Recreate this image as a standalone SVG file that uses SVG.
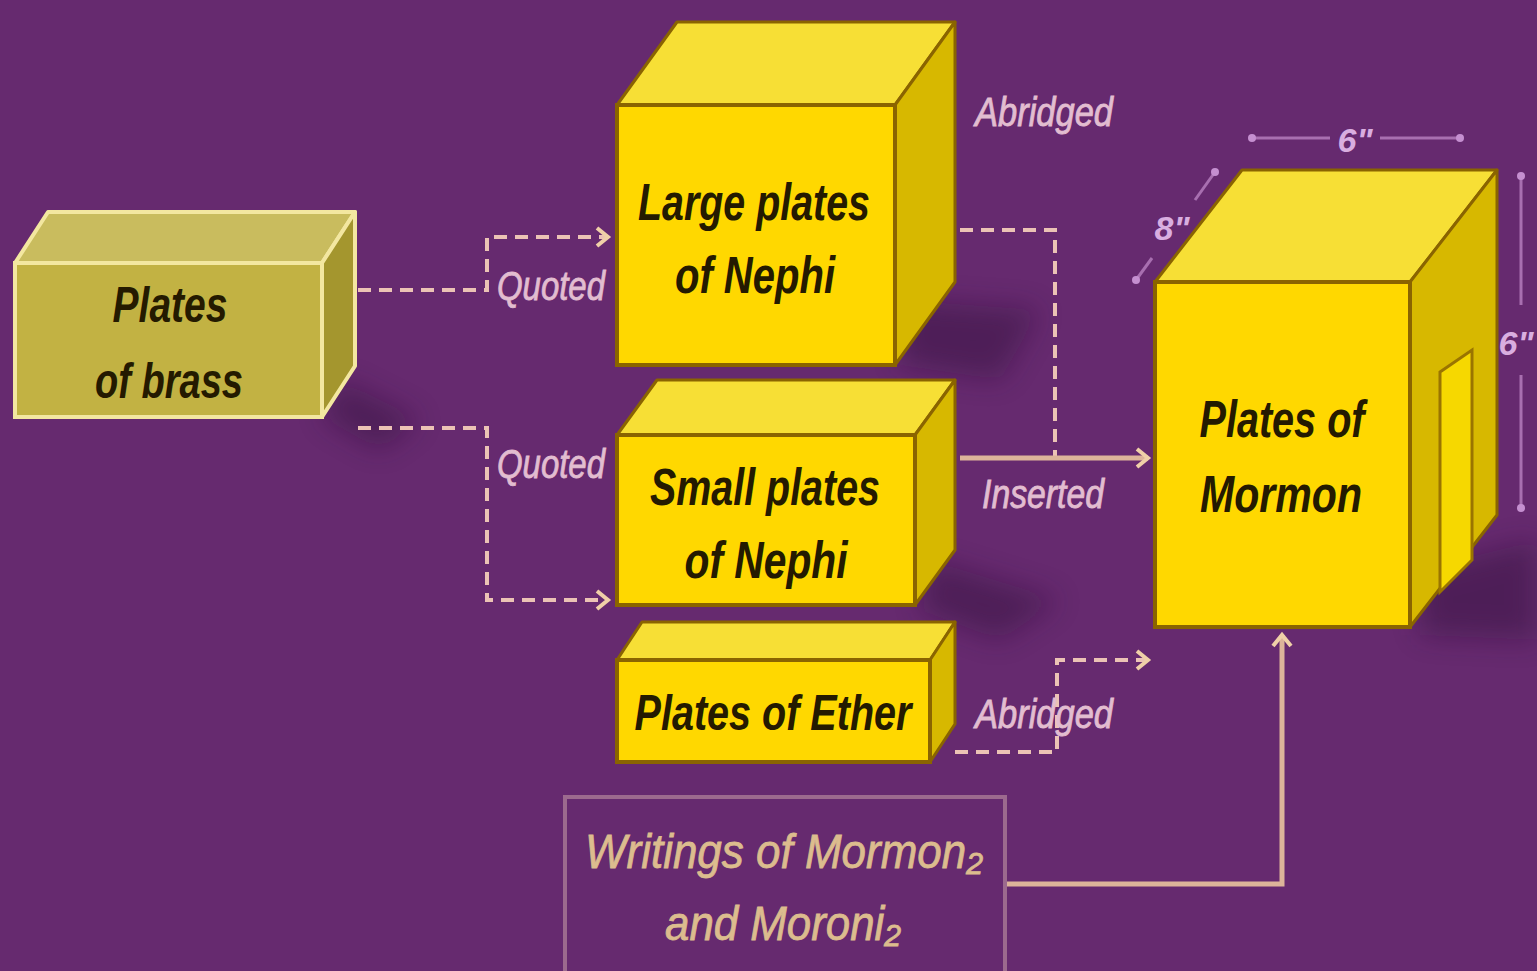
<svg xmlns="http://www.w3.org/2000/svg" width="1537" height="971" viewBox="0 0 1537 971">
<defs>
<style>
.bg{fill:#662a6f}
.front{fill:#ffd800;stroke:#8a6400;stroke-width:4}
.top{fill:#f7df35;stroke:#8a6400;stroke-width:3;stroke-linejoin:round}
.side{fill:#d7b800;stroke:#8a6400;stroke-width:3;stroke-linejoin:round}
.bfront{fill:#c2b243;stroke:#f3e7a0;stroke-width:4}
.btop{fill:#c9bc5e;stroke:#f3e7a0;stroke-width:4;stroke-linejoin:round}
.bside{fill:#a4962e;stroke:#f3e7a0;stroke-width:4;stroke-linejoin:round}
.bt{font-family:"Liberation Sans",Arial,sans-serif;font-style:italic;font-weight:bold;fill:#241a00;text-anchor:middle}
.lbl{font-family:"Liberation Sans",Arial,sans-serif;font-style:italic;fill:#e2bdd0;stroke:#e2bdd0;stroke-width:0.8;text-anchor:middle;font-size:40px}
.dash{fill:none;stroke:#ecc3b5;stroke-width:4;stroke-dasharray:13 8}
.solid{fill:none;stroke:#ddb49a;stroke-width:5}
.dim{fill:none;stroke:#a86fb0;stroke-width:3}
.dimt{font-family:"Liberation Sans",Arial,sans-serif;font-style:italic;font-weight:bold;fill:#d9aee0;font-size:34px;text-anchor:middle}
.wt{font-family:"Liberation Sans","DejaVu Sans",Arial,sans-serif;font-style:italic;fill:#dcbc8e;stroke:#dcbc8e;stroke-width:0.8;font-size:48px}
</style>
<marker id="chev" markerWidth="20" markerHeight="24" refX="14" refY="12" orient="auto" markerUnits="userSpaceOnUse">
<path d="M3,3 L14,12 L3,21" fill="none" stroke="#f0d0a8" stroke-width="4"/>
</marker>
<filter id="sh" x="-20%" y="-20%" width="160%" height="160%">
<feGaussianBlur stdDeviation="14"/>
</filter>
</defs>
<rect class="bg" x="0" y="0" width="1537" height="971"/>

<g id="shadows" opacity="0.4" filter="url(#sh)">
<polygon points="340,380 420,420 380,450 322,417" fill="#2a0a35"/>
<polygon points="900,300 1040,310 1000,380 900,365" fill="#2a0a35"/>
<polygon points="930,560 1060,600 1000,640 920,610" fill="#2a0a35"/>
<polygon points="1420,570 1537,540 1537,640 1420,635" fill="#2a0a35"/>
</g>

<g id="connectors">
<polyline class="dash" points="358,290 487,290 487,237 608,237" marker-end="url(#chev)"/>
<polyline class="dash" points="358,428 487,428 487,600 608,600" marker-end="url(#chev)"/>
<polyline class="dash" points="960,230 1055,230 1055,458"/>
<polyline class="solid" points="960,458 1148,458" marker-end="url(#chev)"/>
<polyline class="dash" points="955,752 1057,752 1057,660 1148,660" marker-end="url(#chev)"/>
<polyline class="solid" points="1005,884 1282,884 1282,635" marker-end="url(#chev)"/>
<text class="lbl" x="551" y="300" textLength="108" lengthAdjust="spacingAndGlyphs">Quoted</text>
<text class="lbl" x="551" y="478" textLength="108" lengthAdjust="spacingAndGlyphs">Quoted</text>
<text class="lbl" x="1044" y="126" textLength="138" lengthAdjust="spacingAndGlyphs">Abridged</text>
<text class="lbl" x="1043" y="508" textLength="122" lengthAdjust="spacingAndGlyphs">Inserted</text>
<text class="lbl" x="1044" y="728" textLength="138" lengthAdjust="spacingAndGlyphs">Abridged</text>
</g>

<g id="brass">
<polygon class="btop" points="15,263 48,212 355,212 322,263"/>
<polygon class="bside" points="322,263 355,212 355,366 322,417"/>
<rect class="bfront" x="15" y="263" width="307" height="154"/>
<text class="bt" font-size="50" x="170" y="322" textLength="115" lengthAdjust="spacingAndGlyphs">Plates</text>
<text class="bt" font-size="50" x="169" y="398" textLength="148" lengthAdjust="spacingAndGlyphs">of brass</text>
</g>

<g id="large">
<polygon class="top" points="617,105 677,22 955,22 895,105"/>
<polygon class="side" points="895,105 955,22 955,282 895,365"/>
<rect class="front" x="617" y="105" width="278" height="260"/>
<text class="bt" font-size="52" x="754" y="220" textLength="232" lengthAdjust="spacingAndGlyphs">Large plates</text>
<text class="bt" font-size="52" x="755" y="293" textLength="160" lengthAdjust="spacingAndGlyphs">of Nephi</text>
</g>

<g id="small">
<polygon class="top" points="617,435 657,380 955,380 915,435"/>
<polygon class="side" points="915,435 955,380 955,550 915,605"/>
<rect class="front" x="617" y="435" width="298" height="170"/>
<text class="bt" font-size="52" x="765" y="505" textLength="230" lengthAdjust="spacingAndGlyphs">Small plates</text>
<text class="bt" font-size="52" x="766" y="578" textLength="163" lengthAdjust="spacingAndGlyphs">of Nephi</text>
</g>

<g id="ether">
<polygon class="top" points="617,660 642,622 955,622 930,660"/>
<polygon class="side" points="930,660 955,622 955,724 930,762"/>
<rect class="front" x="617" y="660" width="313" height="102"/>
<text class="bt" font-size="50" x="773" y="730" textLength="277" lengthAdjust="spacingAndGlyphs">Plates of Ether</text>
</g>

<g id="mormon">
<polygon class="top" points="1155,282 1242,170 1497,170 1410,282"/>
<polygon class="side" points="1410,282 1497,170 1497,515 1410,627"/>
<polygon points="1440,372 1472,350 1472,560 1440,592" fill="#f6d800" stroke="#9a7400" stroke-width="3"/>
<rect class="front" x="1155" y="282" width="255" height="345"/>
<text class="bt" font-size="52" x="1282" y="437" textLength="165" lengthAdjust="spacingAndGlyphs">Plates of</text>
<text class="bt" font-size="52" x="1281" y="512" textLength="162" lengthAdjust="spacingAndGlyphs">Mormon</text>
</g>

<g id="dimensions">
<line class="dim" x1="1252" y1="138" x2="1330" y2="138"/>
<line class="dim" x1="1380" y1="138" x2="1460" y2="138"/>
<circle cx="1252" cy="138" r="4" fill="#c58fd0"/>
<circle cx="1460" cy="138" r="4" fill="#c58fd0"/>
<text class="dimt" x="1355" y="152">6"</text>
<line class="dim" x1="1136" y1="280" x2="1152" y2="258"/>
<line class="dim" x1="1195" y1="200" x2="1215" y2="172"/>
<circle cx="1136" cy="280" r="4" fill="#c58fd0"/>
<circle cx="1215" cy="172" r="4" fill="#c58fd0"/>
<text class="dimt" x="1172" y="240">8"</text>
<line class="dim" x1="1521" y1="176" x2="1521" y2="305"/>
<line class="dim" x1="1521" y1="375" x2="1521" y2="508"/>
<circle cx="1521" cy="176" r="4" fill="#c58fd0"/>
<circle cx="1521" cy="508" r="4" fill="#c58fd0"/>
<text class="dimt" x="1516" y="355">6"</text>
</g>

<g id="writings">
<rect x="565" y="797" width="440" height="180" fill="#662a6f" stroke="#9c6a8e" stroke-width="4"/>
<text class="wt" x="585" y="868" textLength="398" lengthAdjust="spacingAndGlyphs">Writings of Mormon₂</text>
<text class="wt" x="665" y="940" textLength="236" lengthAdjust="spacingAndGlyphs">and Moroni₂</text>
</g>
</svg>
